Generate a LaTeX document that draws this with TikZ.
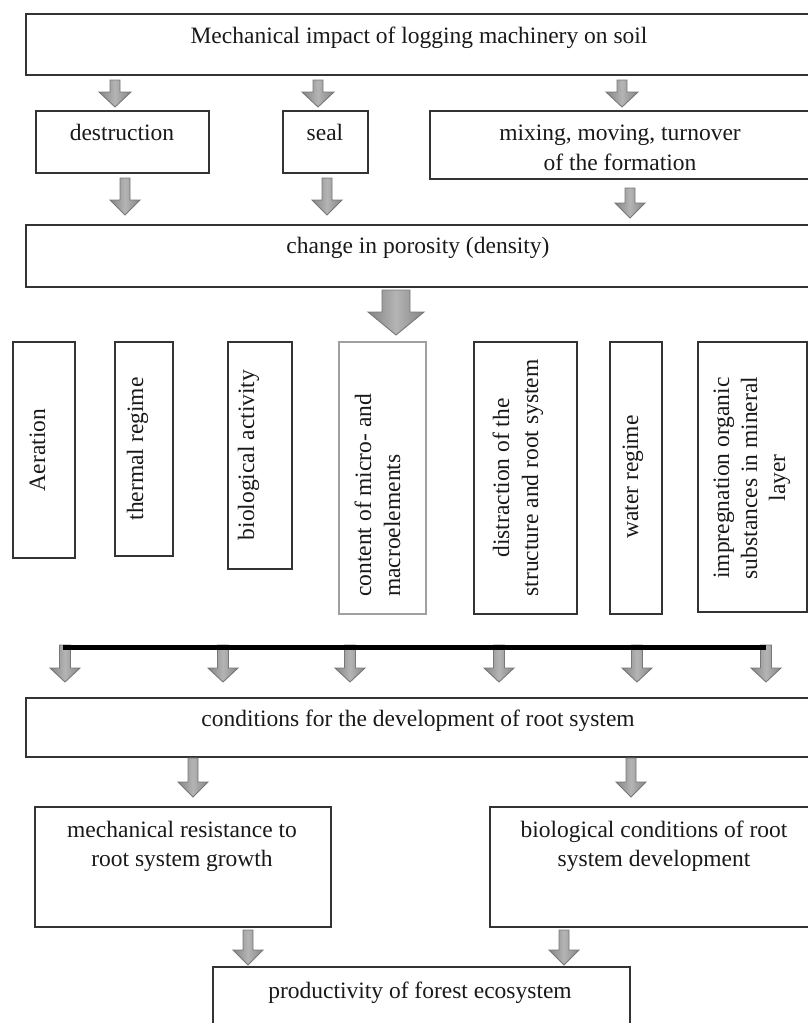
\documentclass[tikz,border=0pt]{standalone}
\usepackage{fontspec}
\setmainfont{Liberation Serif}
\usetikzlibrary{calc}
\definecolor{boxline}{HTML}{333333}
\definecolor{lightline}{HTML}{A0A0A0}
\definecolor{arrowedge}{HTML}{777777}
\definecolor{arrowdark}{HTML}{858585}
\definecolor{arrowlight}{HTML}{B4B4B4}
\tikzset{
  box/.style={draw=boxline, line width=1.3pt, inner sep=0pt, outer sep=0pt, anchor=north west},
  txt/.style={font=\fontsize{23.5}{29}\selectfont, inner sep=0pt, anchor=base, text=black!90},
  vtxt/.style={txt, rotate=90},
  barrowsty/.style={draw=arrowedge, line width=0.9pt, left color=arrowdark, right color=arrowdark, middle color=arrowlight, line join=miter},
}
% #1 x, #2 start coord, #3 tip coord, #4 shaft half width, #5 head half width, #6 head length
\newcommand{\blockarr}[6]{%
  \path[barrowsty] let \p1=(#2), \p2=(#3), \p3=(#1,0) in
    (\x3-#4pt,\y1) -- (\x3+#4pt,\y1) -- (\x3+#4pt,\y2+#6pt) -- (\x3+#5pt,\y2+#6pt)
    -- (\x3,\y2) -- (\x3-#5pt,\y2+#6pt) -- (\x3-#4pt,\y2+#6pt) -- cycle;}
\begin{document}
\begin{tikzpicture}[x=1pt,y=1pt]
\useasboundingbox (0,0) rectangle (808,-1023);
% boxes
\node[box, minimum width=786, minimum height=61] (top) at (26,-14) {};
\node[box, minimum width=173, minimum height=62] (destr) at (36,-111) {};
\node[box, minimum width=85, minimum height=62] (seal) at (283,-111) {};
\node[box, minimum width=382, minimum height=68] (mix) at (430,-111) {};
\node[box, minimum width=786, minimum height=62] (chg) at (26,-225) {};
\node[box, minimum width=62, minimum height=216] (aer) at (13,-342) {};
\node[box, minimum width=58, minimum height=214] (therm) at (115,-342) {};
\node[box, minimum width=64, minimum height=227] (bio) at (228,-342) {};
\node[box, draw=lightline, minimum width=87, minimum height=272] (cont) at (339,-342) {};
\node[box, minimum width=103, minimum height=272] (distr) at (474,-342) {};
\node[box, minimum width=52, minimum height=272] (water) at (610,-342) {};
\node[box, minimum width=109, minimum height=270] (impr) at (698,-342) {};
\node[box, minimum width=786, minimum height=59] (cond) at (26,-698) {};
\node[box, minimum width=296, minimum height=120] (mech) at (35,-807) {};
\node[box, minimum width=322, minimum height=120] (bioc) at (490,-807) {};
\node[box, minimum width=417, minimum height=63] (prod) at (213,-967) {};
% texts (multi-line nodes: base = last line baseline)
\node[txt] (topT) at (419,-43) {Mechanical impact of logging machinery on soil};
\node[txt] (destrT) at (122,-140) {destruction};
\node[txt] (sealT) at (325,-140) {seal};
\node[txt, align=center, font=\fontsize{23.5}{30}\selectfont] (mixT) at (620,-170) {mixing, moving, turnover\\of the formation};
\node[txt] (chgT) at (418,-253) {change in porosity (density)};
\node[vtxt] (aerT) at (45,-450) {Aeration};
\node[vtxt] (thermT) at (143,-449) {thermal regime};
\node[vtxt] (bioT) at (254,-455) {biological activity};
\node[vtxt, anchor=base west, align=left] (contT) at (400,-597) {content of micro- and\\macroelements};
\node[vtxt, align=center] (distrT) at (538,-478) {distraction of the\\structure and root system};
\node[vtxt] (waterT) at (638,-477) {water regime};
\node[vtxt, align=center, font=\fontsize{23.5}{28}\selectfont] (imprT) at (785,-478) {impregnation organic\\substances in mineral\\layer};
\node[txt] (condT) at (418,-726) {conditions for the development of root system};
\node[txt, align=center] (mechT) at (182,-866) {mechanical resistance to\\root system growth};
\node[txt, align=center] (biocT) at (654,-866) {biological conditions of root\\system development};
\node[txt] (prodT) at (420,-998) {productivity of forest ecosystem};
% arrows row 1
\blockarr{115}{$(top.south)+(0,-5)$}{$(destr.north)+(0,4)$}{5}{16}{15}
\blockarr{318}{$(top.south)+(0,-5)$}{$(seal.north)+(0,4)$}{5}{16}{15}
\blockarr{622}{$(top.south)+(0,-5)$}{$(mix.north)+(0,4)$}{5}{16}{15}
% arrows row 2
\blockarr{125}{$(destr.south)+(0,-5)$}{$(chg.north)+(0,10)$}{5}{15}{15}
\blockarr{327}{$(seal.south)+(0,-5)$}{$(chg.north)+(0,10)$}{5}{15}{15}
\blockarr{630}{$(mix.south)+(0,-9)$}{$(chg.north)+(0,7)$}{5}{15}{15}
% big arrow
\blockarr{396}{$(chg.south)+(0,-3)$}{$(cont.north)+(0,7)$}{14}{28}{23}
% collector line
\coordinate (L1) at (63,-647);
\coordinate (L2) at (223,-647);
\coordinate (L3) at (350,-647);
\coordinate (L4) at (499,-647);
\coordinate (L5) at (637,-647);
\coordinate (L6) at (766,-647);
\blockarr{65}{$(L1)+(0,2)$}{$(cond.north)+(0,16)$}{5.5}{15}{14}
\blockarr{223}{$(L2)+(0,2)$}{$(cond.north)+(0,16)$}{5.5}{15}{14}
\blockarr{350}{$(L3)+(0,2)$}{$(cond.north)+(0,16)$}{5.5}{15}{14}
\blockarr{499}{$(L4)+(0,2)$}{$(cond.north)+(0,16)$}{5.5}{15}{14}
\blockarr{637}{$(L5)+(0,2)$}{$(cond.north)+(0,16)$}{5.5}{15}{14}
\blockarr{766}{$(L6)+(0,2)$}{$(cond.north)+(0,16)$}{5.5}{15}{14}
\draw[line width=5pt, black] (L1) -- (L6);
% arrows lower
\blockarr{193}{$(cond.south)+(0,-1)$}{$(mech.north)+(0,10)$}{5}{15}{15}
\blockarr{631}{$(cond.south)+(0,-1)$}{$(bioc.north)+(0,10)$}{5}{15}{15}
\blockarr{248}{$(mech.south)+(0,-3)$}{$(prod.north)+(0,2)$}{5}{15}{15}
\blockarr{564}{$(bioc.south)+(0,-3)$}{$(prod.north)+(0,2)$}{5}{15}{15}
\end{tikzpicture}
\end{document}
